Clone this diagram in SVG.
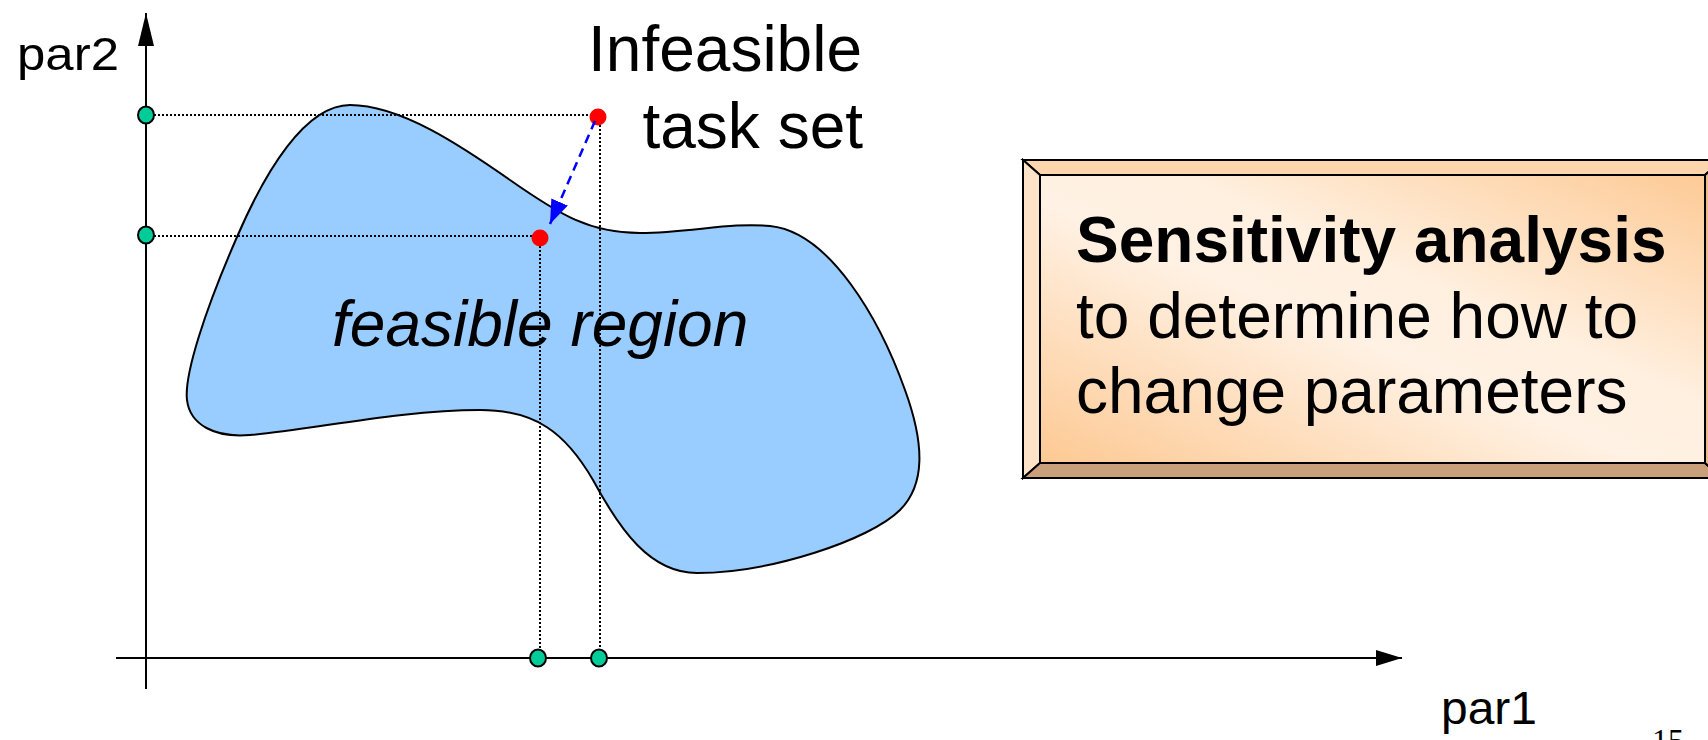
<svg xmlns="http://www.w3.org/2000/svg" width="1708" height="740" viewBox="0 0 1708 740">
  <style>
    .axis { stroke: #000; stroke-width: 2; fill: none; }
    .guide { stroke: #000; stroke-width: 2; stroke-dasharray: 2 2; fill: none; }
    .tick { fill: #00cc99; stroke: #000; stroke-width: 2; }
    .pt { fill: #ff0000; }
    .txt { font-family: "Liberation Sans", Arial, sans-serif; fill: #000; }
    .bevel { stroke: #000; stroke-width: 2; stroke-linejoin: miter; }
  </style>
  <defs>
    <marker id="axisHead" viewBox="0 0 26 16" refX="26" refY="8" markerWidth="26" markerHeight="16" markerUnits="userSpaceOnUse" orient="auto">
      <path d="M0,0 L26,8 L0,16 Z" fill="#000"/>
    </marker>
    <marker id="axisHeadY" viewBox="0 0 33 16" refX="33" refY="8" markerWidth="33" markerHeight="16" markerUnits="userSpaceOnUse" orient="auto">
      <path d="M0,0 L33,8 L0,16 Z" fill="#000"/>
    </marker>
    <marker id="moveHead" viewBox="0 0 24 18" refX="24" refY="9" markerWidth="24" markerHeight="18" markerUnits="userSpaceOnUse" orient="auto">
      <path d="M0,0 L24,9 L0,18 Z" fill="#0000ff"/>
    </marker>
    <linearGradient id="face" x1="0" y1="1" x2="1" y2="0">
      <stop offset="0" stop-color="#fdc993"/>
      <stop offset="0.45" stop-color="#fff1e3"/>
      <stop offset="0.6" stop-color="#fff0e0"/>
      <stop offset="1" stop-color="#fdca95"/>
    </linearGradient>
  </defs>

  <!-- feasible region -->
  <g id="region">
    <path d="M350,105 C400,105 460,145 510,180 C560,215 590,233 640,233 C690,233 730,222 770,226 C830,232 880,320 905,390 C925,445 925,485 900,510 C870,540 770,573 697,573 C650,573 620,530 593,480 C565,432 535,410 480,410 C400,410 310,430 250,435 C215,438 190,425 187,400 C184,375 205,310 237,237 C265,172 305,105 350,105 Z" fill="#99ccff" stroke="#000" stroke-width="2"/>
    <text class="txt" x="332" y="346" font-size="64" font-style="italic">feasible region</text>
  </g>

  <!-- projection guides -->
  <g id="guides">
    <line class="guide" x1="146" y1="115" x2="598" y2="115"/>
    <line class="guide" x1="146" y1="236" x2="540" y2="236"/>
    <line class="guide" x1="600" y1="117" x2="600" y2="658"/>
    <line class="guide" x1="540" y1="238" x2="540" y2="658"/>
  </g>

  <!-- axes -->
  <g id="axes">
    <line class="axis" x1="116" y1="658" x2="1402" y2="658" marker-end="url(#axisHead)"/>
    <line class="axis" x1="146" y1="689" x2="146" y2="13" marker-end="url(#axisHeadY)"/>
    <text class="txt" x="17" y="70" font-size="46" textLength="102" lengthAdjust="spacingAndGlyphs">par2</text>
    <text class="txt" x="1441" y="724" font-size="46" textLength="96" lengthAdjust="spacingAndGlyphs">par1</text>
  </g>

  <!-- axis ticks -->
  <g id="ticks">
    <ellipse class="tick" cx="146" cy="115" rx="8" ry="8.5"/>
    <ellipse class="tick" cx="146" cy="235" rx="8" ry="8.5"/>
    <ellipse class="tick" cx="538" cy="658" rx="8" ry="8.5"/>
    <ellipse class="tick" cx="599" cy="658" rx="8" ry="8.5"/>
  </g>

  <!-- task set points -->
  <g id="infeasible">
    <circle class="pt" cx="598" cy="117" r="8.5"/>
    <text class="txt" x="862" y="71" font-size="64" text-anchor="end">Infeasible</text>
    <text class="txt" x="863" y="148" font-size="64" text-anchor="end">task set</text>
  </g>
  <g id="feasible">
    <circle class="pt" cx="540" cy="238" r="8.5"/>
  </g>

  <!-- move connector -->
  <g id="connectors">
    <line x1="595" y1="121" x2="550" y2="224" stroke="#0000ff" stroke-width="2.5" stroke-dasharray="9 6" marker-end="url(#moveHead)"/>
  </g>

  <!-- bevelled note -->
  <g id="note">
    <polygon class="bevel" points="1023,160 1722,160 1705,175 1040,175" fill="#fdd6ae"/>
    <polygon class="bevel" points="1023,160 1040,175 1040,463 1023,478" fill="#fee3c8"/>
    <polygon class="bevel" points="1023,478 1040,463 1705,463 1722,478" fill="#c9a07b"/>
    <polygon class="bevel" points="1722,160 1705,175 1705,463 1722,478" fill="#e6b88a"/>
    <rect x="1040" y="175" width="665" height="288" fill="url(#face)" stroke="#000" stroke-width="2"/>
    <text class="txt" x="1076" y="262" font-size="64" font-weight="bold">Sensitivity analysis</text>
    <text class="txt" x="1076" y="338" font-size="64">to determine how to</text>
    <text class="txt" x="1076" y="413" font-size="64">change parameters</text>
  </g>

  <!-- page number -->
  <text id="page" x="1652" y="751" font-family="'Liberation Serif', 'Times New Roman', serif" font-size="32">15</text>
</svg>
